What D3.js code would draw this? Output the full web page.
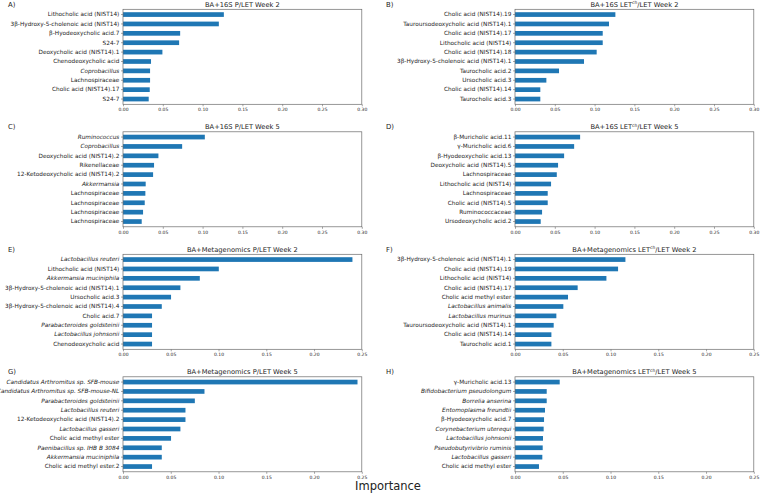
<!DOCTYPE html>
<html>
<head>
<meta charset="utf-8">
<script src="https://cdn.jsdelivr.net/npm/d3@7"></script>
<style>
  html, body { margin: 0; padding: 0; background: #fff; }
  svg { display: block; font-family: "DejaVu Sans", sans-serif; }
</style>
</head>
<body>
<svg id="chart" width="760" height="497"></svg>
<script>
// ---------- data ----------
const lettersList = ["A)", "B)", "C)", "D)", "E)", "F)", "G)", "H)"];
const titlesPre  = ["BA+16S P/LET Week 2", "BA+16S LET", "BA+16S P/LET Week 5", "BA+16S LET",
                    "BA+Metagenomics P/LET Week 2", "BA+Metagenomics LET", "BA+Metagenomics P/LET Week 5", "BA+Metagenomics LET"];
const titlesSup  = ["", "ch", "", "ch", "", "ch", "", "ch"];
const titlesPost = ["", "/LET Week 2", "", "/LET Week 5", "", "/LET Week 2", "", "/LET Week 5"];
const xMaxList   = [0.30, 0.30, 0.30, 0.30, 0.25, 0.25, 0.25, 0.25];
const ticks030 = [0, 0.05, 0.10, 0.15, 0.20, 0.25, 0.30];
const ticks025 = [0, 0.05, 0.10, 0.15, 0.20, 0.25];

const labelsA = ["Lithocholic acid (NIST14)", "3β-Hydroxy-5-cholenoic acid (NIST14)", "β-Hyodeoxycholic acid.7", "S24-7",
  "Deoxycholic acid (NIST14).1", "Chenodeoxycholic acid", "Coprobacillus", "Lachnospiraceae", "Cholic acid (NIST14).17", "S24-7"];
const valuesA = [0.1267, 0.1204, 0.0718, 0.0705, 0.0495, 0.0352, 0.0340, 0.0340, 0.0336, 0.0323];

const labelsB = ["Cholic acid (NIST14).19", "Tauroursodeoxycholic acid (NIST14).1", "Cholic acid (NIST14).17", "Lithocholic acid (NIST14)",
  "Cholic acid (NIST14).18", "3β-Hydroxy-5-cholenoic acid (NIST14).1", "Taurocholic acid.2", "Ursocholic acid.3", "Cholic acid (NIST14).14", "Taurocholic acid.3"];
const valuesB = [0.1261, 0.1181, 0.1102, 0.1102, 0.1026, 0.0867, 0.0553, 0.0394, 0.0318, 0.0318];

const labelsC = ["Ruminococcus", "Coprobacillus", "Deoxycholic acid (NIST14).2", "Rikenellaceae", "12-Ketodeoxycholic acid (NIST14).2",
  "Akkermansia", "Lachnospiraceae", "Lachnospiraceae", "Lachnospiraceae", "Lachnospiraceae"];
const valuesC = [0.1028, 0.0743, 0.0445, 0.0390, 0.0378, 0.0285, 0.0281, 0.0273, 0.0252, 0.0235];

const labelsD = ["β-Muricholic acid.11", "γ-Muricholic acid.6", "β-Hyodeoxycholic acid.13", "Deoxycholic acid (NIST14).5", "Lachnospiraceae",
  "Lithocholic acid (NIST14)", "Lachnospiraceae", "Cholic acid (NIST14).5", "Ruminococcaceae", "Ursodeoxycholic acid.2"];
const valuesD = [0.0818, 0.0743, 0.0617, 0.0541, 0.0525, 0.0453, 0.0411, 0.0411, 0.0340, 0.0323];

const labelsE = ["Lactobacillus reuteri", "Lithocholic acid (NIST14)", "Akkermansia muciniphila", "3β-Hydroxy-5-cholenoic acid (NIST14).1",
  "Ursocholic acid.3", "3β-Hydroxy-5-cholenoic acid (NIST14).4", "Cholic acid.7", "Parabacteroides goldsteinii", "Lactobacillus johnsonii", "Chenodeoxycholic acid"];
const valuesE = [0.2402, 0.1003, 0.0804, 0.0601, 0.0503, 0.0406, 0.0304, 0.0304, 0.0304, 0.0304];

const labelsF = ["3β-Hydroxy-5-cholenoic acid (NIST14).1", "Cholic acid (NIST14).19", "Lithocholic acid (NIST14)", "Cholic acid (NIST14).17",
  "Cholic acid methyl ester", "Lactobacillus animalis", "Lactobacillus murinus", "Tauroursodeoxycholic acid (NIST14).1", "Cholic acid (NIST14).14", "Taurocholic acid.1"];
const valuesF = [0.1156, 0.1079, 0.0957, 0.0656, 0.0555, 0.0506, 0.0433, 0.0405, 0.0381, 0.0381];

const labelsG = ["Candidatus Arthromitus sp. SFB-mouse", "Candidatus Arthromitus sp. SFB-mouse-NL", "Parabacteroides goldsteinii", "Lactobacillus reuteri",
  "12-Ketodeoxycholic acid (NIST14).2", "Lactobacillus gasseri", "Cholic acid methyl ester", "Paenibacillus sp. IHB B 3084", "Akkermansia muciniphila", "Cholic acid methyl ester.2"];
const valuesG = [0.2455, 0.0853, 0.0752, 0.0654, 0.0654, 0.0601, 0.0503, 0.0406, 0.0406, 0.0304];

const labelsH = ["γ-Muricholic acid.13", "Bifidobacterium pseudolongum", "Borrelia anserina", "Entomoplasma freundtii", "β-Hyodeoxycholic acid.7",
  "Corynebacterium uterequi", "Lactobacillus johnsonii", "Pseudobutyrivibrio ruminis", "Lactobacillus gasseri", "Cholic acid methyl ester"];
const valuesH = [0.0468, 0.0332, 0.0332, 0.0314, 0.0304, 0.0300, 0.0293, 0.0290, 0.0286, 0.0251];

const italicLabels = ["Coprobacillus", "Ruminococcus", "Akkermansia", "Lactobacillus reuteri", "Akkermansia muciniphila",
  "Parabacteroides goldsteinii", "Lactobacillus johnsonii", "Lactobacillus animalis", "Lactobacillus murinus",
  "Candidatus Arthromitus sp. SFB-mouse", "Candidatus Arthromitus sp. SFB-mouse-NL", "Lactobacillus gasseri",
  "Paenibacillus sp. IHB B 3084", "Bifidobacterium pseudolongum", "Borrelia anserina", "Entomoplasma freundtii",
  "Corynebacterium uterequi", "Pseudobutyrivibrio ruminis"];

const xAxisLabel = "Importance";

// ---------- layout ----------
const allLabels = [labelsA, labelsB, labelsC, labelsD, labelsE, labelsF, labelsG, labelsH];
const allValues = [valuesA, valuesB, valuesC, valuesD, valuesE, valuesF, valuesG, valuesH];
const colX = [123, 515];
const rowY = [9.3, 131.8, 254.3, 376.8];
const W = 238.8, H = 95;
const barColor = "#1f77b4";
const spineColor = "#6a6a6a";

const svg = d3.select("#chart");

allLabels.forEach((labels, i) => {
  const values = allValues[i];
  const col = i % 2, row = Math.floor(i / 2);
  const g = svg.append("g").attr("transform", `translate(${colX[col]},${rowY[row]})`);

  const x = d3.scaleLinear().domain([0, xMaxList[i]]).range([0, W]);
  const y = d3.scaleBand().domain(d3.range(labels.length)).range([0, H])
    .paddingInner(0.5).paddingOuter(0.31);

  // bars
  g.selectAll("rect.bar").data(values).join("rect")
    .attr("class", "bar")
    .attr("x", x(0))
    .attr("y", (d, j) => y(j))
    .attr("width", d => x(d) - x(0))
    .attr("height", y.bandwidth())
    .attr("fill", barColor);

  // x axis
  const xa = g.append("g").attr("transform", `translate(0,${H})`)
    .call(d3.axisBottom(x).tickValues(xMaxList[i] > 0.26 ? ticks030 : ticks025)
      .tickFormat(d3.format(".2f")).tickSize(2).tickPadding(1.6));
  xa.select(".domain").remove();
  xa.selectAll("line").attr("stroke", spineColor).attr("stroke-width", 0.6);
  xa.selectAll("text").attr("font-size", 4.5).attr("fill", "#222")
    .attr("font-family", "DejaVu Sans");

  // y axis
  const ya = g.append("g")
    .call(d3.axisLeft(y).tickFormat(j => labels[j]).tickSize(2).tickPadding(1.7));
  ya.select(".domain").remove();
  ya.selectAll("line").attr("stroke", spineColor).attr("stroke-width", 0.6);
  ya.selectAll("text").attr("font-size", 5.75).attr("fill", "#222")
    .attr("font-family", "DejaVu Sans")
    .attr("font-style", j => italicLabels.includes(labels[j]) ? "italic" : "normal");

  // frame
  g.append("rect").attr("x", 0).attr("y", 0).attr("width", W).attr("height", H)
    .attr("fill", "none").attr("stroke", spineColor).attr("stroke-width", 0.7);

  // title
  const t = g.append("text").attr("x", W / 2).attr("y", -2.6)
    .attr("text-anchor", "middle").attr("font-size", 6.7).attr("fill", "#222");
  t.append("tspan").text(titlesPre[i]);
  if (titlesSup[i]) {
    t.append("tspan").attr("font-size", 4.4).attr("dy", -2.4).text(titlesSup[i]);
    t.append("tspan").attr("dy", 2.4).text(titlesPost[i]);
  } else {
    t.append("tspan").text(titlesPost[i]);
  }

  // panel letter
  svg.append("text")
    .attr("x", col === 0 ? 8 : 386).attr("y", rowY[row] - 2.4)
    .attr("font-size", 6.9).attr("fill", "#222").text(lettersList[i]);
});

svg.append("text").attr("x", 388).attr("y", 489.5)
  .attr("text-anchor", "middle").attr("font-size", 11.5).attr("fill", "#222")
  .text(xAxisLabel);
</script>
</body>
</html>
